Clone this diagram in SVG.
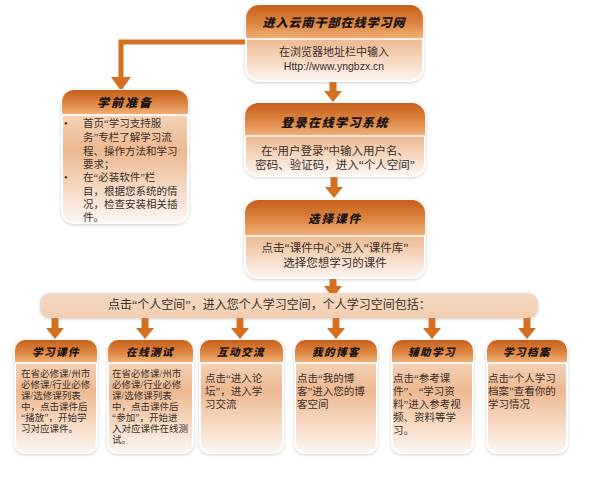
<svg xmlns="http://www.w3.org/2000/svg" xmlns:xlink="http://www.w3.org/1999/xlink" width="600" height="486" viewBox="0 0 600 486">
<defs>
<linearGradient id="hd" x1="0" y1="0" x2="0" y2="1">
<stop offset="0" stop-color="#c65f1a"/>
<stop offset="0.55" stop-color="#dc8642"/>
<stop offset="1" stop-color="#efae76"/>
</linearGradient>
<linearGradient id="bd" x1="0" y1="0" x2="0" y2="1">
<stop offset="0" stop-color="#f8e6d6"/>
<stop offset="0.45" stop-color="#edb88f"/>
<stop offset="1" stop-color="#fdf7f2"/>
</linearGradient>
<linearGradient id="bn" x1="0" y1="0" x2="0" y2="1">
<stop offset="0" stop-color="#f5d9c3"/>
<stop offset="1" stop-color="#f1cdb1"/>
</linearGradient>
<filter id="sh" x="-10%" y="-10%" width="120%" height="120%">
<feDropShadow dx="0" dy="1" stdDeviation="1.5" flood-color="#9a8f88" flood-opacity="0.45"/>
</filter>
<path id="arr" d="M-3.5,0 H3.5 V11 H9 L0,22 L-9,11 H-3.5 Z"/>
<path id="arrs" d="M-3.5,0 H3.5 V9 H9 L0,21 L-9,9 H-3.5 Z"/>
</defs>
<style>
.box{fill:url(#bd);stroke:#ffffff;stroke-width:2;filter:url(#sh)}
.hdr{fill:url(#hd)}
.ttl{font-family:"Noto Sans CJK SC","Noto Sans CJK JP",sans-serif;font-weight:900;fill:#1a1210;text-anchor:middle;font-style:italic}
.txt{font-family:"Liberation Serif","Noto Sans CJK SC","Noto Sans CJK JP",serif;fill:#3a302b}
.arr{fill:#d4701f}
</style>
<rect width="600" height="486" fill="#ffffff"/>

<g id="connectors">
<polyline points="248,42 121,42 121,79" fill="none" stroke="#d4701f" stroke-width="5"/>
<polygon points="111,77 131,77 121,91" class="arr"/>
<use xlink:href="#arr" x="333" y="80" class="arr"/>
<use xlink:href="#arr" x="334" y="176" class="arr"/>
<use xlink:href="#arrs" x="333" y="277" class="arr"/>
<use xlink:href="#arr" x="55" y="317" class="arr"/>
<use xlink:href="#arr" x="145" y="317" class="arr"/>
<use xlink:href="#arr" x="240" y="317" class="arr"/>
<use xlink:href="#arr" x="336" y="317" class="arr"/>
<use xlink:href="#arr" x="432" y="317" class="arr"/>
<use xlink:href="#arr" x="527" y="317" class="arr"/>
</g>

<g id="n-enter">
<rect x="246" y="5" width="177" height="76" rx="13" class="box"/>
<path d="M259,5 H410 A13,13 0 0 1 423,18 V38 H246 V18 A13,13 0 0 1 259,5 Z" class="hdr"/>
<line x1="246" y1="39" x2="423" y2="39" stroke="#ffffff" stroke-width="1.5"/>
<text x="334" y="27" class="ttl" font-size="12" letter-spacing="1">进入云南干部在线学习网</text>
<text x="334" y="56" class="txt" font-size="11" text-anchor="middle">在浏览器地址栏中输入</text>
<text x="334" y="70" font-family="Liberation Sans,Arial,sans-serif" font-size="10.5" fill="#3a302b" text-anchor="middle">Http://www.yngbzx.cn</text>
</g>

<g id="n-prep">
<rect x="62" y="90" width="126" height="133" rx="12" class="box"/>
<path d="M74,90 H176 A12,12 0 0 1 188,102 V114 H62 V102 A12,12 0 0 1 74,90 Z" class="hdr"/>
<line x1="62" y1="115" x2="188" y2="115" stroke="#ffffff" stroke-width="1.5"/>
<text x="125" y="107" class="ttl" font-size="12" letter-spacing="2">学前准备</text>
<g class="txt" font-size="10.5">
<text x="64" y="127">•</text>
<text x="83" y="127">首页“学习支持服</text>
<text x="83" y="141">务”专栏了解学习流</text>
<text x="83" y="155">程、操作方法和学习</text>
<text x="83" y="168">要求；</text>
<text x="64" y="181">•</text>
<text x="83" y="181">在“必装软件”栏</text>
<text x="83" y="195">目，根据您系统的情</text>
<text x="83" y="208">况，检查安装相关插</text>
<text x="83" y="221">件。</text>
</g>
</g>

<g id="n-login">
<rect x="245" y="103" width="180" height="73" rx="13" class="box"/>
<path d="M258,103 H412 A13,13 0 0 1 425,116 V135 H245 V116 A13,13 0 0 1 258,103 Z" class="hdr"/>
<line x1="245" y1="136" x2="425" y2="136" stroke="#ffffff" stroke-width="1.5"/>
<text x="335" y="127" class="ttl" font-size="12" letter-spacing="1.5">登录在线学习系统</text>
<text x="335" y="155" class="txt" font-size="11.5" text-anchor="middle">在“用户登录”中输入用户名、</text>
<text x="335" y="169" class="txt" font-size="11.5" text-anchor="middle">密码、验证码，进入“个人空间”</text>
</g>

<g id="n-select">
<rect x="245" y="200" width="180" height="78" rx="13" class="box"/>
<path d="M258,200 H412 A13,13 0 0 1 425,213 V235 H245 V213 A13,13 0 0 1 258,200 Z" class="hdr"/>
<line x1="245" y1="236" x2="425" y2="236" stroke="#ffffff" stroke-width="1.5"/>
<text x="335" y="223" class="ttl" font-size="11.5" letter-spacing="2">选择课件</text>
<text x="335" y="252" class="txt" font-size="11.5" text-anchor="middle">点击“课件中心”进入“课件库”</text>
<text x="335" y="267" class="txt" font-size="11.5" text-anchor="middle">选择您想学习的课件</text>
</g>

<g id="n-space">
<rect x="40" y="293" width="498" height="25" rx="10" fill="url(#bn)" filter="url(#sh)"/>
<text x="108" y="309" class="txt" font-size="12">点击“个人空间”，进入您个人学习空间，个人学习空间包括：</text>
</g>

<g id="n-course">
<rect x="15" y="340" width="82" height="113" rx="10" class="box"/>
<path d="M25,340 H87 A10,10 0 0 1 97,350 V362 H15 V350 A10,10 0 0 1 25,340 Z" class="hdr"/>
<line x1="15" y1="363" x2="97" y2="363" stroke="#ffffff" stroke-width="1.5"/>
<text x="56" y="356" class="ttl" font-size="10.5" letter-spacing="1.5">学习课件</text>
<g class="txt" font-size="9.5">
<text x="21" y="377">在省必修课/州市</text>
<text x="21" y="388">必修课/行业必修</text>
<text x="21" y="399">课/选修课列表</text>
<text x="21" y="410">中，点击课件后</text>
<text x="21" y="421">“播放”，开始学</text>
<text x="21" y="432">习对应课件。</text>
</g>
</g>

<g id="n-test">
<rect x="108" y="340" width="85" height="113" rx="10" class="box"/>
<path d="M118,340 H183 A10,10 0 0 1 193,350 V362 H108 V350 A10,10 0 0 1 118,340 Z" class="hdr"/>
<line x1="108" y1="363" x2="193" y2="363" stroke="#ffffff" stroke-width="1.5"/>
<text x="150" y="356" class="ttl" font-size="10.5" letter-spacing="1.5">在线测试</text>
<g class="txt" font-size="9.5">
<text x="112" y="377">在省必修课/州市</text>
<text x="112" y="388">必修课/行业必修</text>
<text x="112" y="399">课/选修课列表</text>
<text x="112" y="410">中，点击课件后</text>
<text x="112" y="421">“参加”，开始进</text>
<text x="112" y="432">入对应课件在线测</text>
<text x="112" y="443">试。</text>
</g>
</g>

<g id="n-talk">
<rect x="200" y="340" width="83" height="113" rx="10" class="box"/>
<path d="M210,340 H273 A10,10 0 0 1 283,350 V362 H200 V350 A10,10 0 0 1 210,340 Z" class="hdr"/>
<line x1="200" y1="363" x2="283" y2="363" stroke="#ffffff" stroke-width="1.5"/>
<text x="241" y="356" class="ttl" font-size="10.5" letter-spacing="1.5">互动交流</text>
<g class="txt" font-size="10.5">
<text x="205" y="382">点击“进入论</text>
<text x="205" y="395">坛”，进入学</text>
<text x="205" y="408">习交流</text>
</g>
</g>

<g id="n-blog">
<rect x="295" y="340" width="82" height="113" rx="10" class="box"/>
<path d="M305,340 H367 A10,10 0 0 1 377,350 V362 H295 V350 A10,10 0 0 1 305,340 Z" class="hdr"/>
<line x1="295" y1="363" x2="377" y2="363" stroke="#ffffff" stroke-width="1.5"/>
<text x="336" y="356" class="ttl" font-size="10.5" letter-spacing="1.5">我的博客</text>
<g class="txt" font-size="10.5">
<text x="297" y="382">点击“我的博</text>
<text x="297" y="395">客”进入您的博</text>
<text x="297" y="408">客空间</text>
</g>
</g>

<g id="n-aux">
<rect x="392" y="340" width="81" height="113" rx="10" class="box"/>
<path d="M402,340 H463 A10,10 0 0 1 473,350 V362 H392 V350 A10,10 0 0 1 402,340 Z" class="hdr"/>
<line x1="392" y1="363" x2="473" y2="363" stroke="#ffffff" stroke-width="1.5"/>
<text x="432" y="356" class="ttl" font-size="10.5" letter-spacing="1.5">辅助学习</text>
<g class="txt" font-size="10.5">
<text x="393" y="382">点击“参考课</text>
<text x="393" y="395">件”、“学习资</text>
<text x="393" y="408">料”进入参考视</text>
<text x="393" y="421">频、资料等学</text>
<text x="393" y="434">习。</text>
</g>
</g>

<g id="n-record">
<rect x="487" y="340" width="80" height="113" rx="10" class="box"/>
<path d="M497,340 H557 A10,10 0 0 1 567,350 V362 H487 V350 A10,10 0 0 1 497,340 Z" class="hdr"/>
<line x1="487" y1="363" x2="567" y2="363" stroke="#ffffff" stroke-width="1.5"/>
<text x="527" y="356" class="ttl" font-size="10.5" letter-spacing="1.5">学习档案</text>
<g class="txt" font-size="10.5">
<text x="488" y="382">点击“个人学习</text>
<text x="488" y="395">档案”查看你的</text>
<text x="488" y="408">学习情况</text>
</g>
</g>
</svg>
